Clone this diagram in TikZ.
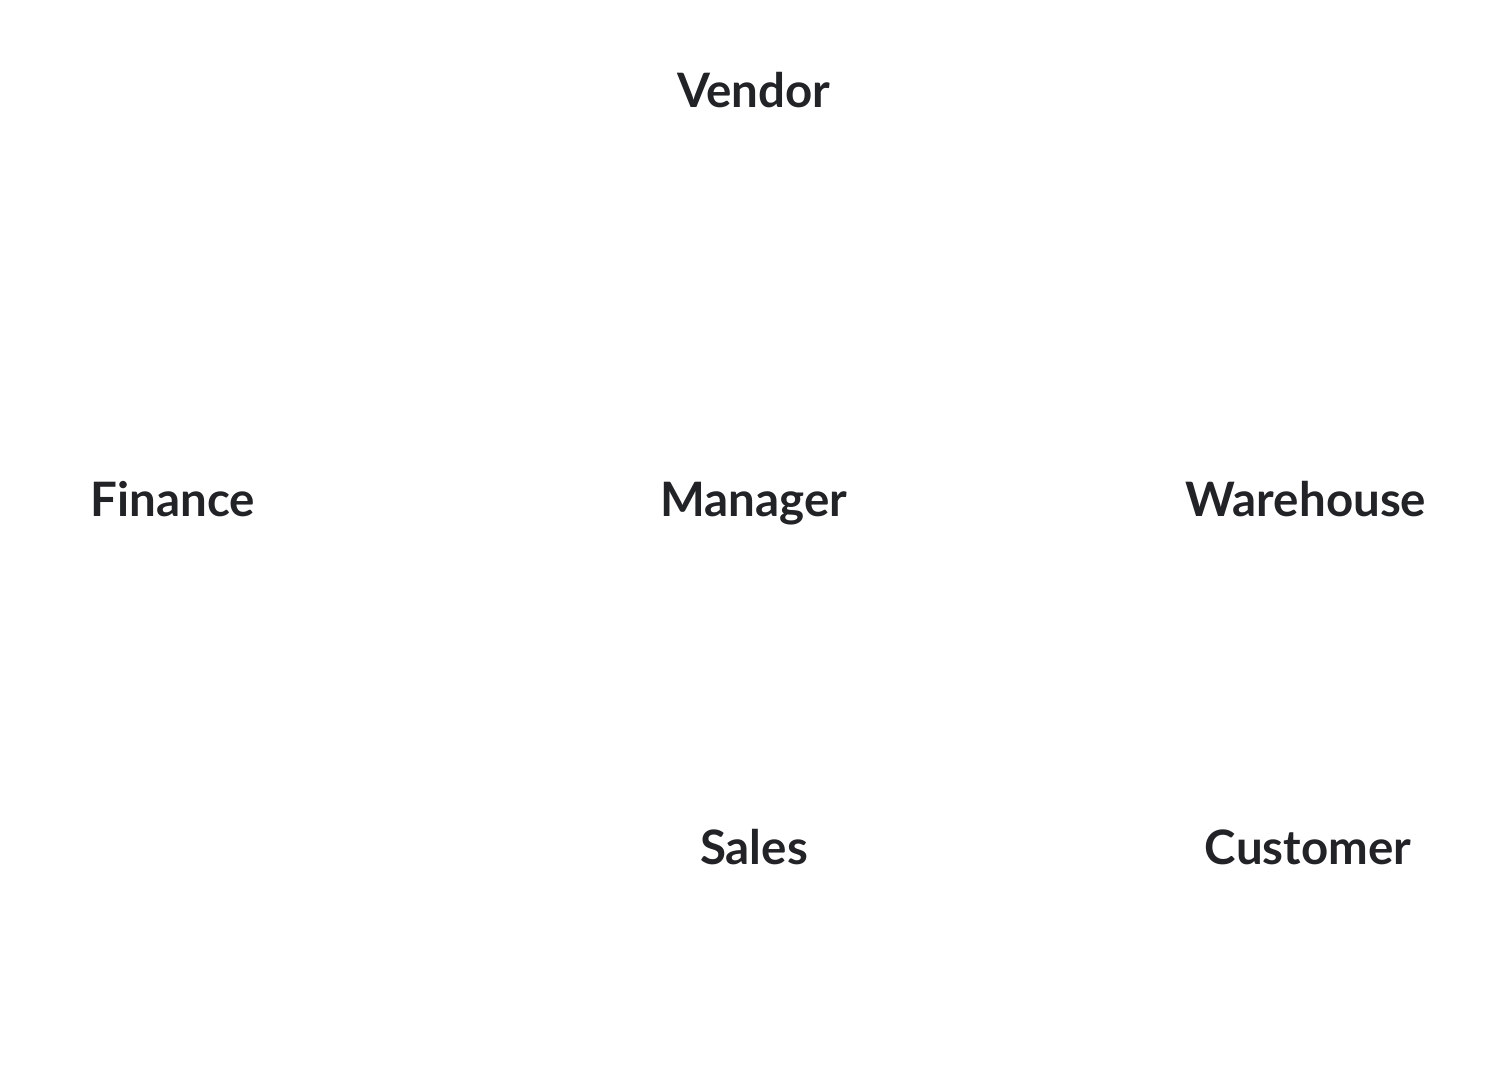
\documentclass[tikz,border=0pt]{standalone}
\usepackage{fontspec}
\setmainfont{Lato}
\usepackage{xcolor}
\usepackage{tikz}
\usetikzlibrary{shapes,arrows,positioning}

\definecolor{ink}{HTML}{222326}
\definecolor{paleline}{HTML}{FFFFFF}

\begin{document}
\begin{tikzpicture}[node distance=1cm, on grid]
				\useasboundingbox (0,0) rectangle (29.7,21.66);
				\tikzset{role/.style={text=ink, text height=0.72cm, text depth=0.2cm, font=\fontsize{27}{32}\selectfont\bfseries},
					flow/.style={->, thin, paleline},
					flowlabel/.style={text=paleline, font=\fontsize{25}{30}\selectfont\bfseries}}
				
				\node[role] (manager) at (15.08,11.58) {Manager};
				\node[role, above=8.18cm of manager] (vendor) {Vendor};
				\node[role, left=11.62cm of manager] (finance) {Finance};
				\node[role, right=11.04cm of manager] (warehouse) {Warehouse};
				\node[role, below=6.96cm of manager] (sales) {Sales};
				\node[role, right=11.08cm of sales] (customer) {Customer};
				
				\draw[flow] (vendor) -| (warehouse);
				\draw[flow] (vendor) -- (manager);
				\draw[flow] (finance) -- (manager);
				\draw[flow] (manager) -- (warehouse);
				\draw[flow] ([xshift=-1.6cm]sales.north) -- ([xshift=-1.6cm]manager.south);
				\draw[flow] ([xshift=1.6cm]manager.south) -- ([xshift=1.6cm]sales.north);
				\draw[flow] ([yshift=0.9cm]customer.west) -- ([yshift=0.9cm]sales.east);
				\draw[flow] ([yshift=-0.8cm]sales.east) -- ([yshift=-0.8cm]customer.west);
				
				\node[flowlabel, above=5.08cm of manager, xshift=-2.44cm] (purchase) {Purchase};
				\node[flowlabel, above=3.32cm of manager, xshift=3.12cm] (inventory) {Inventory};
				\node[flowlabel, below=4.2cm of sales] (payment) {Payment};
			\end{tikzpicture}
\end{document}
